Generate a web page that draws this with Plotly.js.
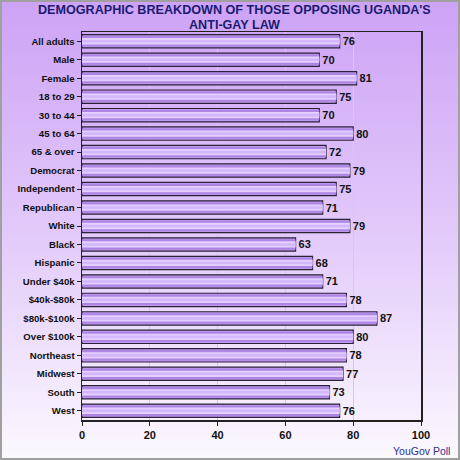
<!DOCTYPE html>
<html><head><meta charset="utf-8">
<script src="https://cdn.plot.ly/plotly-3.0.1.min.js"></script>
<style>
html,body{margin:0;padding:0;}
body{width:460px;height:460px;overflow:hidden;}
#wrap{position:absolute;left:0;top:0;width:456px;height:456px;border:2px solid #a0a0a0;
background:linear-gradient(to bottom,#cda3f6 0%,#e2c9fa 50%,#fbf8fe 100%);}
#chart{position:absolute;left:-2px;top:-2px;width:460px;height:460px;}
</style></head>
<body><div id="wrap"><div id="chart"></div></div>
<script>
const categories = ["All adults","Male","Female","18 to 29","30 to 44","45 to 64","65 & over","Democrat","Independent","Republican","White","Black","Hispanic","Under $40k","$40k-$80k","$80k-$100k","Over $100k","Northeast","Midwest","South","West"];
const values = [76,70,81,75,70,80,72,79,75,71,79,63,68,71,78,87,80,78,77,73,76];
const tickVals = [0,20,40,60,80,100];
const titleLines = ["DEMOGRAPHIC BREAKDOWN OF THOSE OPPOSING UGANDA'S","ANTI-GAY LAW"];

const F = 'Liberation Sans, Arial, sans-serif';
const base = {
  type:'bar', orientation:'h', y:categories, x:values, width:0.72,
  marker:{color:'#c29af0', line:{color:'#2b2238', width:1.2}},
  text:values.map(String), textposition:'outside', cliponaxis:false,
  textfont:{family:F, size:11, color:'#111', weight:'bold'},
  hoverinfo:'skip'
};
const stripeDark = {
  type:'bar', orientation:'h', y:categories, x:values, width:0.56,
  marker:{color:'#ad86e4', line:{width:0}}, hoverinfo:'skip'
};
const stripeLight = {
  type:'bar', orientation:'h', y:categories, x:values, width:0.34,
  marker:{color:'#e4cfff', line:{width:0}}, hoverinfo:'skip'
};
const stripeMid = {
  type:'bar', orientation:'h', y:categories, x:values, width:0.14,
  marker:{color:'#d3b6fb', line:{width:0}}, hoverinfo:'skip'
};

const titleFont = {family:F, size:12.6, color:'#1b1b72', weight:'bold'};
const layout = {
  width:460, height:460,
  paper_bgcolor:'rgba(0,0,0,0)', plot_bgcolor:'rgba(0,0,0,0)',
  margin:{l:82, r:39, t:32, b:40},
  barmode:'overlay', showlegend:false,
  xaxis:{range:[0,100], tickvals:tickVals, ticktext:tickVals.map(String),
    showgrid:true, gridcolor:'#d0d0d0', gridwidth:1,
    showline:true, linecolor:'#222', linewidth:1.5, mirror:true,
    ticks:'outside', ticklen:4, tickcolor:'#222', zeroline:false,
    tickfont:{family:F, size:11, color:'#111', weight:'bold'}},
  yaxis:{autorange:'reversed', showline:true, linecolor:'#222', linewidth:1.5, mirror:true,
    ticks:'outside', ticklen:4, tickcolor:'#222', showgrid:false,
    tickfont:{family:F, size:9.6, color:'#111', weight:'bold'}},
  annotations:[
    {text:titleLines[0], xref:'paper', yref:'paper', x:0.4484, y:1.0567, xanchor:'center', yanchor:'middle', showarrow:false, font:titleFont},
    {text:titleLines[1], xref:'paper', yref:'paper', x:0.4484, y:1.0180, xanchor:'center', yanchor:'middle', showarrow:false, font:titleFont},
    {text:'YouGov Poll', xref:'paper', yref:'paper', x:1.091, y:-0.080,
    xanchor:'right', yanchor:'middle', showarrow:false,
    font:{family:F, size:10.5, color:'#2f2f8f'}}]
};
Plotly.newPlot('chart',[base,stripeDark,stripeLight,stripeMid],layout,{displayModeBar:false,staticPlot:true});
</script></body></html>
